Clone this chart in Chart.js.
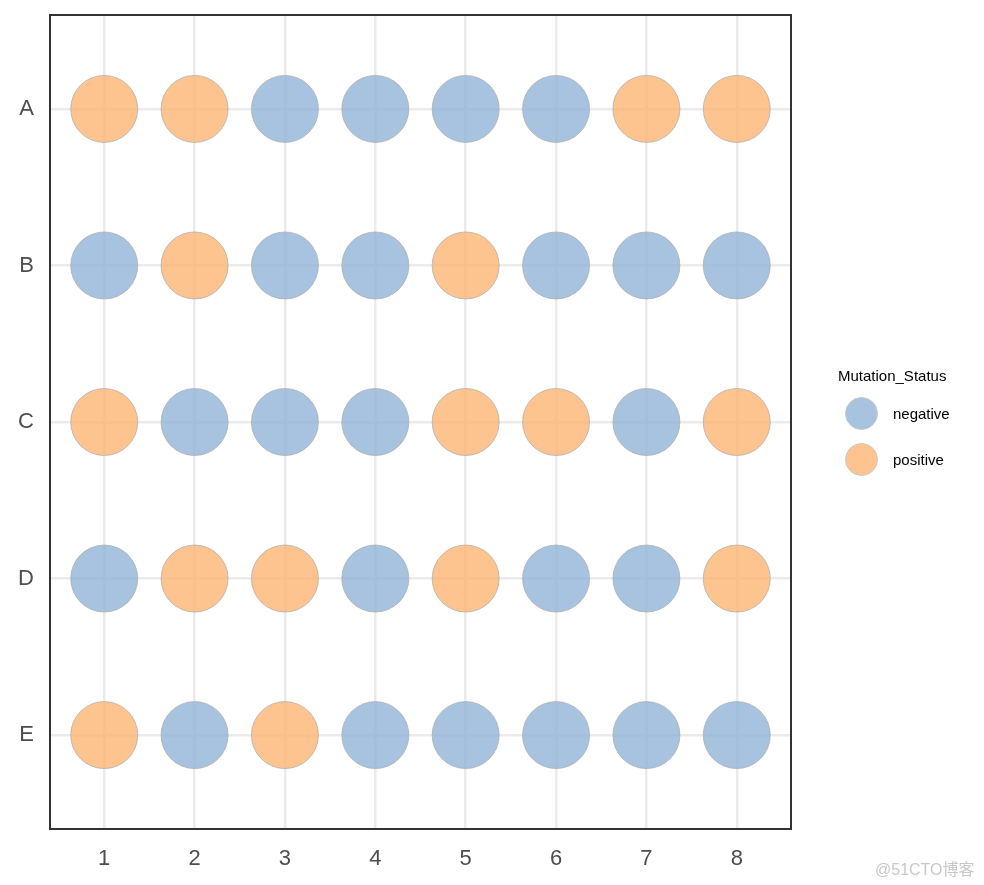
<!DOCTYPE html>
<html>
<head>
<meta charset="utf-8">
<script src="https://cdn.jsdelivr.net/npm/chart.js@4/dist/chart.umd.min.js"></script>
<style>
  html, body { margin: 0; padding: 0; background: #fff; }
  #wrap { position: relative; width: 984px; height: 885px; font-family: "Liberation Sans", Arial, sans-serif; }
  #plot { position: absolute; left: 0; top: 0; }
  .lg-title { position: absolute; left: 838px; top: 367px; font-size: 15px; color: #000; }
  .lg-key { position: absolute; width: 33px; height: 33px; border-radius: 50%; box-sizing: border-box; border: 1px solid #c8c8c8; }
  .lg-lab { position: absolute; left: 893px; font-size: 15px; color: #000; }
  .mark { position: absolute; left: 875px; top: 856px; font-size: 16px; color: #c8c8c8; font-family: "Liberation Sans", Arial, "Noto Sans CJK SC", sans-serif; }
</style>
</head>
<body>
<div id="wrap">
  <canvas id="plot" width="984" height="885"></canvas>
  <div class="lg-title">Mutation_Status</div>
  <div class="lg-key" style="left:845px; top:397px; background: rgba(146,180,216,0.8);"></div>
  <div class="lg-lab" style="top:405px;">negative</div>
  <div class="lg-key" style="left:845px; top:443px; background: rgba(253,181,116,0.8);"></div>
  <div class="lg-lab" style="top:451px;">positive</div>
  <div class="mark">@51CTO博客</div>
</div>
<script>
// ── Data ────────────────────────────────────────────────────────────────
var columns = [1, 2, 3, 4, 5, 6, 7, 8];
var rows = ['A', 'B', 'C', 'D', 'E'];
// 'P' = positive, 'N' = negative, one list per row
var statusA = ['P', 'P', 'N', 'N', 'N', 'N', 'P', 'P'];
var statusB = ['N', 'P', 'N', 'N', 'P', 'N', 'N', 'N'];
var statusC = ['P', 'N', 'N', 'N', 'P', 'P', 'N', 'P'];
var statusD = ['N', 'P', 'P', 'N', 'P', 'N', 'N', 'P'];
var statusE = ['P', 'N', 'P', 'N', 'N', 'N', 'N', 'N'];
var statusRows = [statusA, statusB, statusC, statusD, statusE];

var negPts = [];
var posPts = [];
statusRows.forEach(function (row, ri) {
  row.forEach(function (s, ci) {
    var pt = { x: columns[ci], y: ri + 1 };
    if (s === 'P') posPts.push(pt); else negPts.push(pt);
  });
});

// frame round the plot panel
var panelBorder = {
  id: 'panelBorder',
  afterDatasetsDraw: function (chart) {
    var a = chart.chartArea, ctx = chart.ctx;
    ctx.save();
    ctx.strokeStyle = '#333333';
    ctx.lineWidth = 2;
    ctx.strokeRect(a.left, a.top, a.right - a.left, a.bottom - a.top);
    ctx.restore();
  }
};

var tickFont = { family: '"Liberation Sans", Arial, sans-serif', size: 22 };

new Chart(document.getElementById('plot'), {
  type: 'scatter',
  data: {
    datasets: [
      {
        label: 'negative',
        data: negPts,
        backgroundColor: 'rgba(146,180,216,0.8)',
        borderColor: 'rgba(170,170,170,0.9)',
        borderWidth: 0.8,
        pointRadius: 33.5,
        pointHoverRadius: 33.5
      },
      {
        label: 'positive',
        data: posPts,
        backgroundColor: 'rgba(253,181,116,0.8)',
        borderColor: 'rgba(170,170,170,0.9)',
        borderWidth: 0.8,
        pointRadius: 33.5,
        pointHoverRadius: 33.5
      }
    ]
  },
  options: {
    responsive: false,
    animation: false,
    layout: { autoPadding: false, padding: { top: 15, right: 193, left: 0, bottom: 0 } },
    plugins: { legend: { display: false }, tooltip: { enabled: false } },
    scales: {
      x: {
        type: 'linear',
        min: 0.4,
        max: 8.6,
        afterBuildTicks: function (scale) {
          scale.ticks = columns.map(function (v) { return { value: v }; });
        },
        afterFit: function (scale) {
          scale.height = 56;
          scale.paddingLeft = 0;
          scale.paddingRight = 0;
        },
        grid: { color: '#ebebeb', lineWidth: 2.5, drawTicks: false },
        border: { display: false },
        ticks: {
          font: tickFont,
          color: '#4d4d4d',
          padding: 17,
          callback: function (v) { return String(v); }
        }
      },
      y: {
        type: 'linear',
        min: 0.4,
        max: 5.6,
        reverse: true,
        afterBuildTicks: function (scale) {
          scale.ticks = rows.map(function (r, i) { return { value: i + 1 }; });
        },
        afterFit: function (scale) {
          scale.width = 50;
          scale.paddingTop = 0;
          scale.paddingBottom = 0;
        },
        grid: { color: '#ebebeb', lineWidth: 2.5, drawTicks: false },
        border: { display: false },
        ticks: {
          font: tickFont,
          color: '#4d4d4d',
          padding: 16,
          callback: function (v) { return rows[Math.round(v) - 1]; }
        }
      }
    }
  },
  plugins: [panelBorder]
});
</script>
</body>
</html>
